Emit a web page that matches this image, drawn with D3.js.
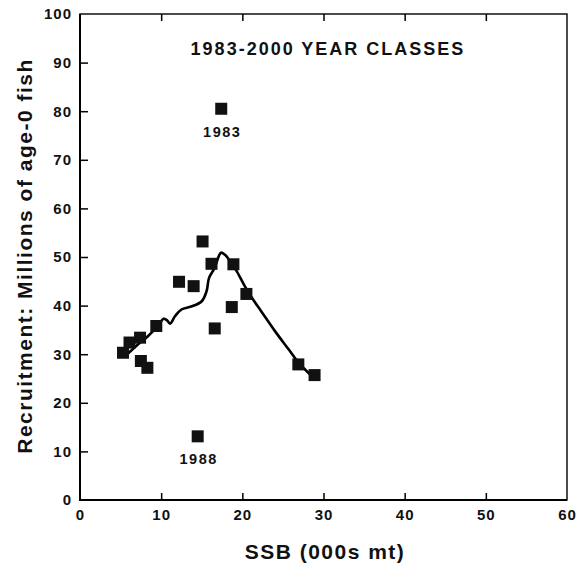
<!DOCTYPE html>
<html><head><meta charset="utf-8">
<script src="https://cdn.jsdelivr.net/npm/d3@7"></script>
<style>body{margin:0;background:#fff}svg{display:block}</style>
</head><body>
<svg id="c" width="585" height="565"></svg>
<script>
const ssb = [5.3, 6.1, 7.4, 7.5, 8.3, 9.4, 12.2, 14.0, 15.1, 16.2, 16.6, 18.7, 18.9, 20.5, 26.9, 28.9, 17.4, 14.5];
const recruits = [30.3, 32.4, 33.4, 28.6, 27.2, 35.8, 44.9, 44.0, 53.2, 48.6, 35.3, 39.7, 48.5, 42.4, 27.9, 25.7, 80.5, 13.1];
const fitX = [5.7, 7.0, 8.3, 9.6, 10.3, 10.7, 11.1, 11.7, 12.5, 13.7, 15.0, 15.6, 15.9, 16.6, 17.1, 17.4, 17.9, 18.5, 19.3, 20.3, 21.3, 22.3, 24.0, 25.7, 26.9, 28.6];
const fitY = [29.8, 31.8, 33.6, 35.8, 37.3, 37.0, 36.3, 37.8, 39.2, 39.8, 40.9, 43.0, 45.7, 47.8, 50.2, 50.9, 50.4, 49.1, 47.1, 44.0, 41.3, 38.9, 34.8, 31.0, 28.3, 25.4];
const labelYears = ["1983", "1988"];
const labelX = [17.4, 14.5];
const labelY = [80.5, 13.1];
const xTicks = [0, 10, 20, 30, 40, 50, 60];
const yTicks = [0, 10, 20, 30, 40, 50, 60, 70, 80, 90, 100];

const svg = d3.select("#c");
const L = 80, R = 567, T = 14, B = 500;
const x = d3.scaleLinear().domain([0, 60]).range([L, R]);
const y = d3.scaleLinear().domain([0, 100]).range([B, T]);
const font = "'Liberation Sans', Arial, sans-serif";

// frame
svg.append("rect").attr("x", L).attr("y", T).attr("width", R - L).attr("height", B - T)
  .attr("fill", "none").attr("stroke", "#000").attr("stroke-width", 1.4);
svg.append("path").attr("d", `M${L},${T}V${B}H${R}`).attr("fill", "none")
  .attr("stroke", "#000").attr("stroke-width", 2);

// inward ticks
const gx = svg.append("g").attr("transform", `translate(0,${B})`)
  .call(d3.axisBottom(x).tickValues(xTicks).tickSizeInner(-7).tickSizeOuter(0).tickPadding(9).tickFormat(d3.format("d")));
const gxt = svg.append("g").attr("transform", `translate(0,${T})`)
  .call(d3.axisTop(x).tickValues(xTicks.slice(1, -1)).tickSizeInner(-7).tickSizeOuter(0).tickFormat(""));
const gy = svg.append("g").attr("transform", `translate(${L},0)`)
  .call(d3.axisLeft(y).tickValues(yTicks).tickSizeInner(-8).tickSizeOuter(0).tickPadding(8).tickFormat(d3.format("d")));
[gx, gxt, gy].forEach(g => {
  g.select(".domain").remove();
  g.selectAll(".tick line").attr("stroke", "#000").attr("stroke-width", 1.5);
  g.selectAll("text").attr("font-family", font).attr("font-size", 15).attr("font-weight", "bold")
    .attr("letter-spacing", 1).attr("fill", "#111");
});
gx.selectAll(".tick").filter(d => d === 0 || d === 60).select("line").remove();
gy.selectAll(".tick").filter(d => d === 0 || d === 100).select("line").remove();

// smoother line
const line = d3.line().x((d, i) => x(fitX[i])).y((d, i) => y(fitY[i])).curve(d3.curveCatmullRom);
svg.append("path").datum(fitX).attr("d", line).attr("fill", "none")
  .attr("stroke", "#000").attr("stroke-width", 2.6).attr("stroke-linejoin", "round");

// points
const s = 12;
svg.append("g").selectAll("rect").data(ssb).join("rect")
  .attr("x", (d, i) => x(d) - s / 2).attr("y", (d, i) => y(recruits[i]) - s / 2)
  .attr("width", s).attr("height", s).attr("fill", "#111");

// point labels
svg.append("g").selectAll("text").data(labelYears).join("text")
  .attr("x", (d, i) => x(labelX[i]) + 1).attr("y", (d, i) => y(labelY[i]) + 28)
  .attr("text-anchor", "middle").attr("font-family", font).attr("font-size", 14.5)
  .attr("font-weight", "bold").attr("letter-spacing", 1.5).attr("fill", "#111").text(d => d);

// title
svg.append("text").attr("x", 328).attr("y", 55).attr("text-anchor", "middle")
  .attr("font-family", font).attr("font-size", 18).attr("font-weight", "bold")
  .attr("letter-spacing", 2).attr("fill", "#111").text("1983-2000 YEAR CLASSES");

// axis titles
svg.append("text").attr("x", 325).attr("y", 559).attr("text-anchor", "middle")
  .attr("font-family", font).attr("font-size", 21).attr("font-weight", "bold")
  .attr("letter-spacing", 1.5).attr("fill", "#111").text("SSB (000s mt)");
svg.append("text").attr("transform", "translate(32,256) rotate(-90)").attr("text-anchor", "middle")
  .attr("font-family", font).attr("font-size", 21).attr("font-weight", "bold")
  .attr("letter-spacing", 1.5).attr("fill", "#111").text("Recruitment: Millions of age-0 fish");
</script>
</body></html>
